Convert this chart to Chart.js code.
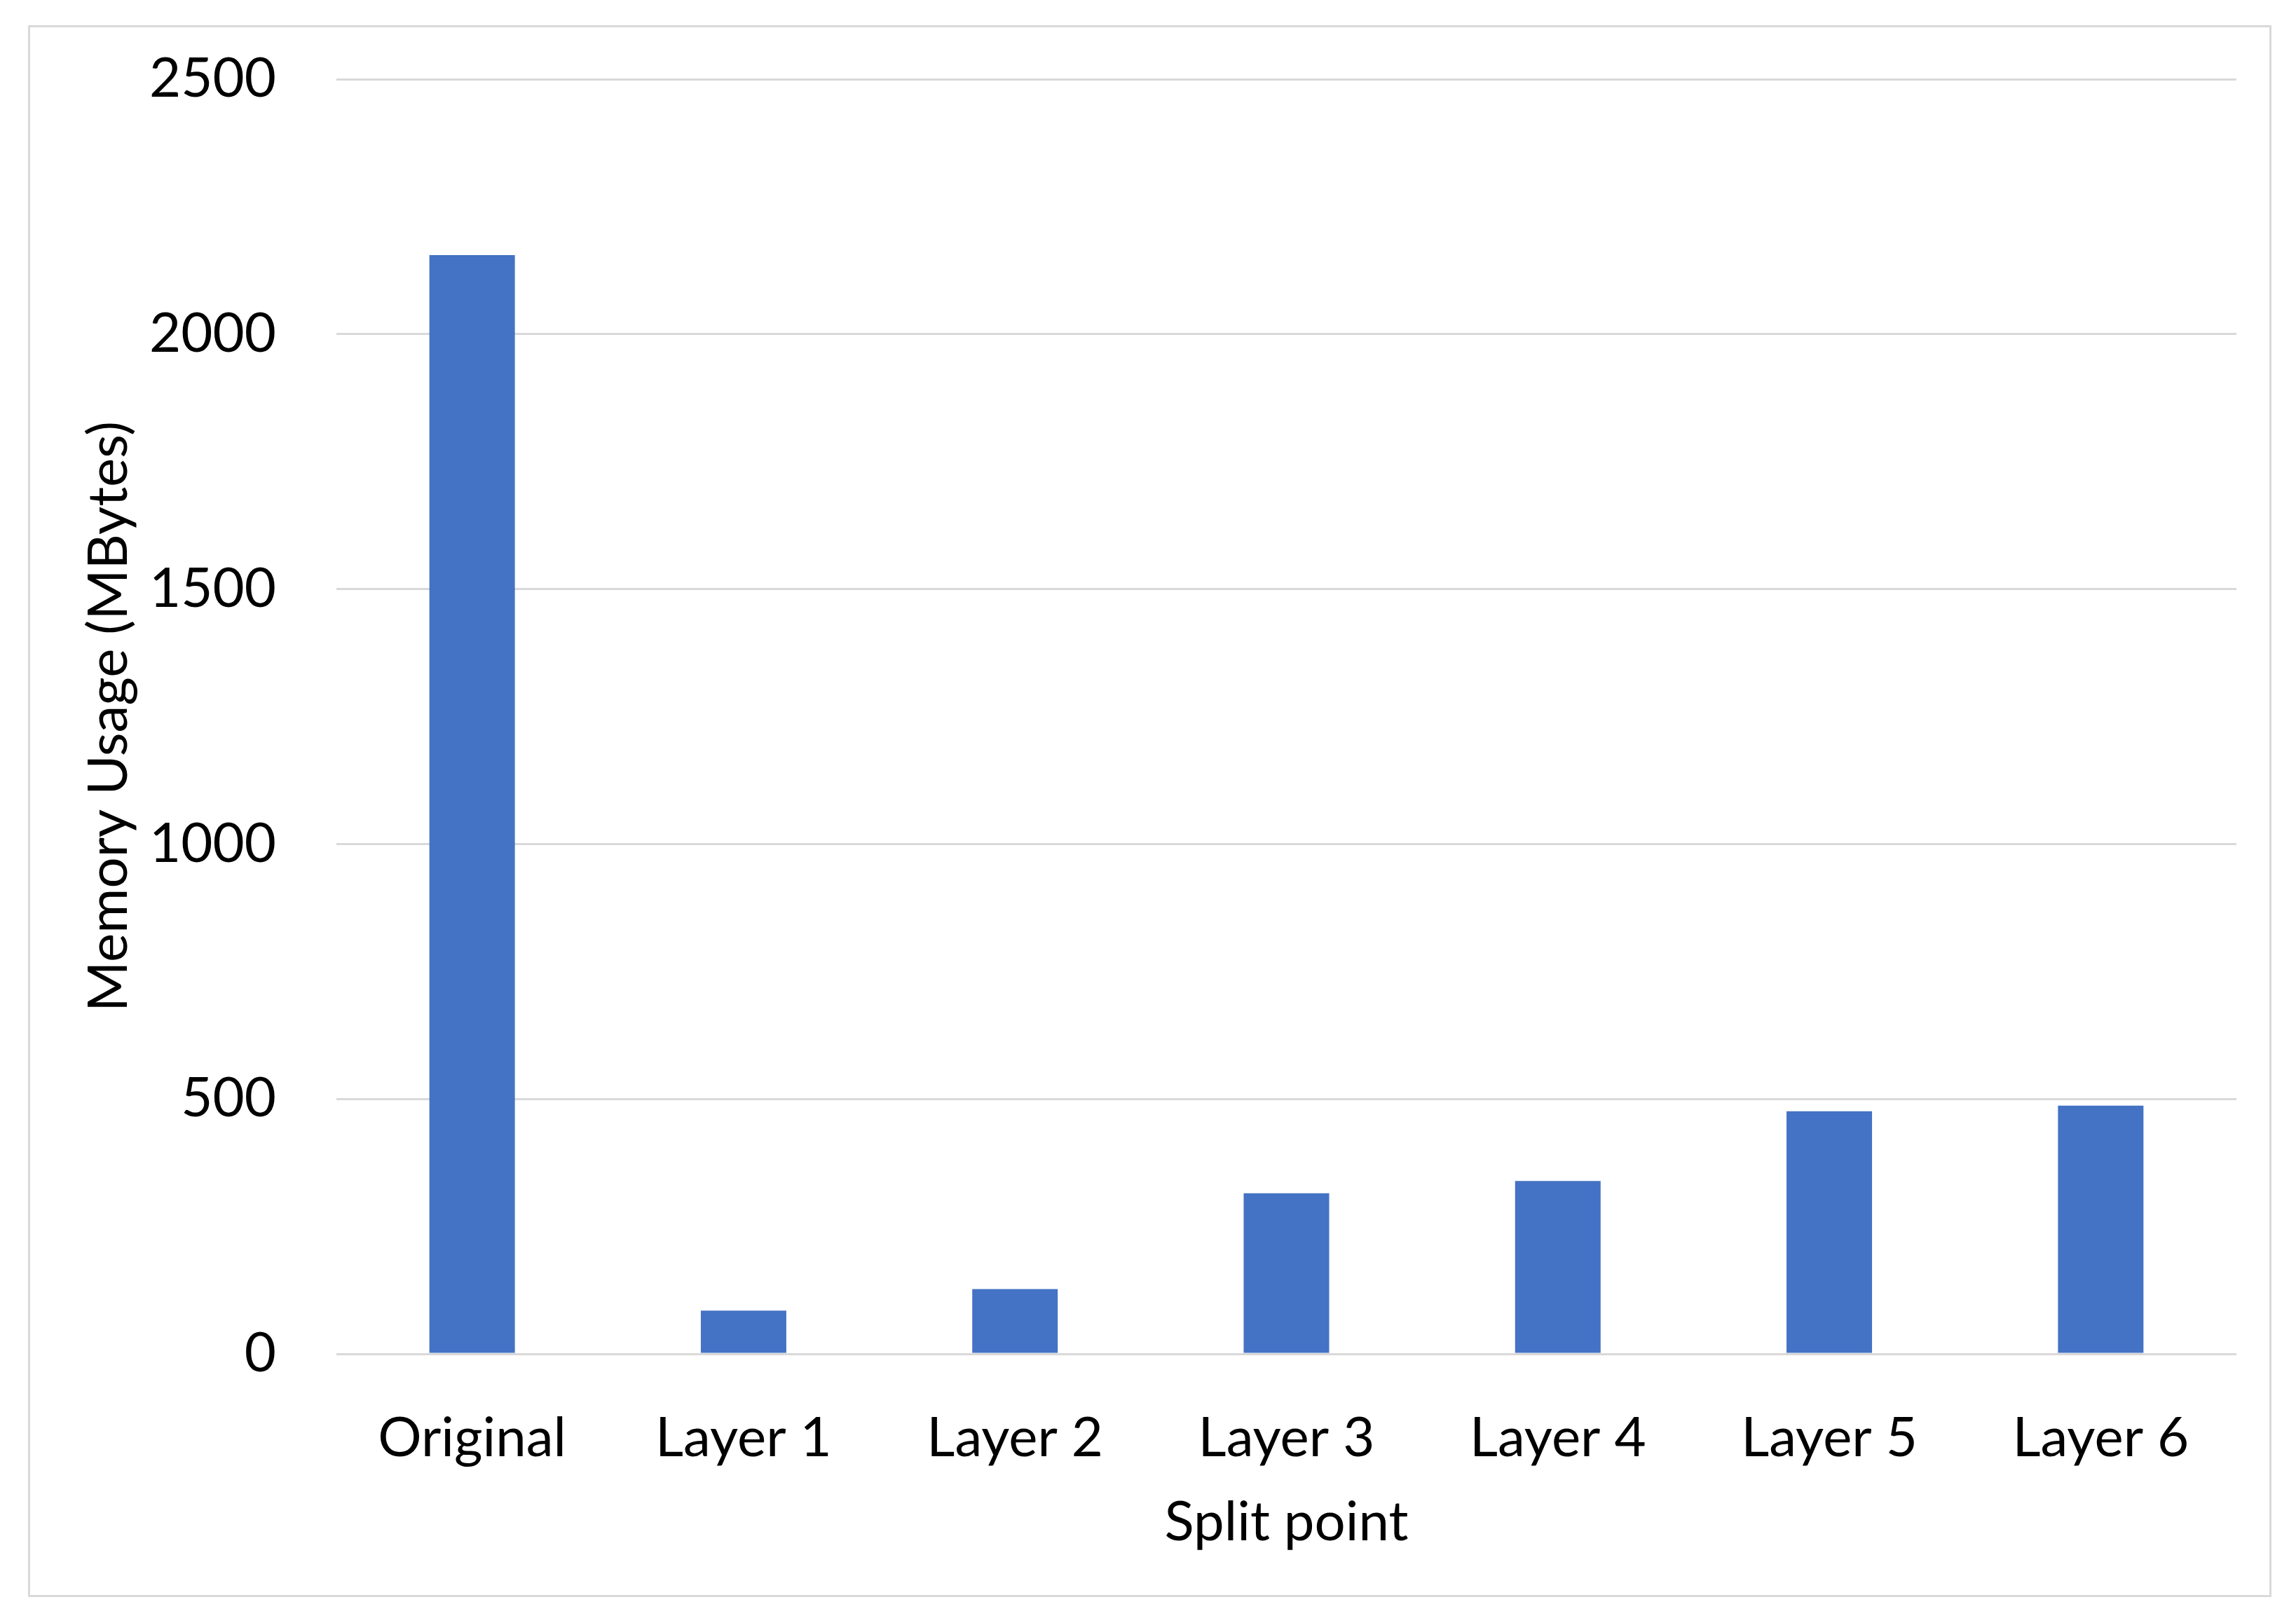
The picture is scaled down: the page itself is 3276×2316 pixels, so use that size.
<!DOCTYPE html>
<html>
<head>
<meta charset="utf-8">
<script src="https://cdn.jsdelivr.net/npm/chart.js@4.4.1/dist/chart.umd.min.js"></script>
<style>
  html, body { margin: 0; padding: 0; background: #fff; overflow: hidden; }
  #wrap { position: relative; width: 3276px; height: 2316px; }
</style>
</head>
<body>
<div id="wrap"><canvas id="memChart"></canvas></div>
<script>
const categories = ['Original', 'Layer 1', 'Layer 2', 'Layer 3', 'Layer 4', 'Layer 5', 'Layer 6'];
const memoryUsage = [2155, 85, 127, 315, 339, 476, 487];
const yTickValues = [0, 500, 1000, 1500, 2000, 2500];

const FONT = 'Lato, "Open Sans", sans-serif';

// cadre gris autour du graphique
const frame = {
    id: 'frame',
    beforeDraw(chart) {
        const c = chart.ctx;
        c.save();
        c.fillStyle = '#ffffff';
        c.fillRect(0, 0, chart.width, chart.height);
        c.strokeStyle = '#d9d9d9';
        c.lineWidth = 3;
        c.strokeRect(41.5, 37.5, 3198, 2240);
        c.restore();
    }
};

const ctx = document.getElementById('memChart').getContext('2d');
new Chart(ctx, {
    type: 'bar',
    data: {
        labels: categories,
        datasets: [{
            data: memoryUsage,
            backgroundColor: '#4472c4',
            borderWidth: 0,
            categoryPercentage: 1,
            barPercentage: 0.315
        }]
    },
    plugins: [frame],
    options: {
        responsive: true,
        maintainAspectRatio: false,
        animation: false,
        layout: { padding: { left: 109, top: 113, right: 85, bottom: 96 } },
        plugins: { legend: { display: false }, tooltip: { enabled: false } },
        scales: {
            x: {
                grid: { display: false },
                border: { display: false },
                ticks: {
                    color: '#000',
                    padding: 66,
                    font: { family: FONT, size: 78, lineHeight: 1.2 },
                    maxRotation: 0
                },
                title: {
                    display: true,
                    text: 'Split point',
                    color: '#000',
                    padding: 0,
                    font: { family: FONT, size: 78, lineHeight: 1.2 }
                },
                afterFit(scale) { scale.height = 288; }
            },
            y: {
                min: 0,
                max: 2500,
                afterBuildTicks(scale) { scale.ticks = yTickValues.map(v => ({ value: v })); },
                grid: { color: '#d9d9d9', lineWidth: 3, drawTicks: false },
                border: { display: false },
                ticks: {
                    color: '#000',
                    padding: 86,
                    font: { family: FONT, size: 78, lineHeight: 1.2 },
                    callback: v => String(v)
                },
                title: {
                    display: true,
                    text: 'Memory Usage (MBytes)',
                    color: '#000',
                    padding: 0,
                    font: { family: FONT, size: 78, lineHeight: 1.2 }
                },
                afterFit(scale) {
                    scale.width = 371;
                    scale.paddingTop = 0;
                    scale.paddingBottom = 0;
                }
            }
        }
    }
});
</script>
</body>
</html>
